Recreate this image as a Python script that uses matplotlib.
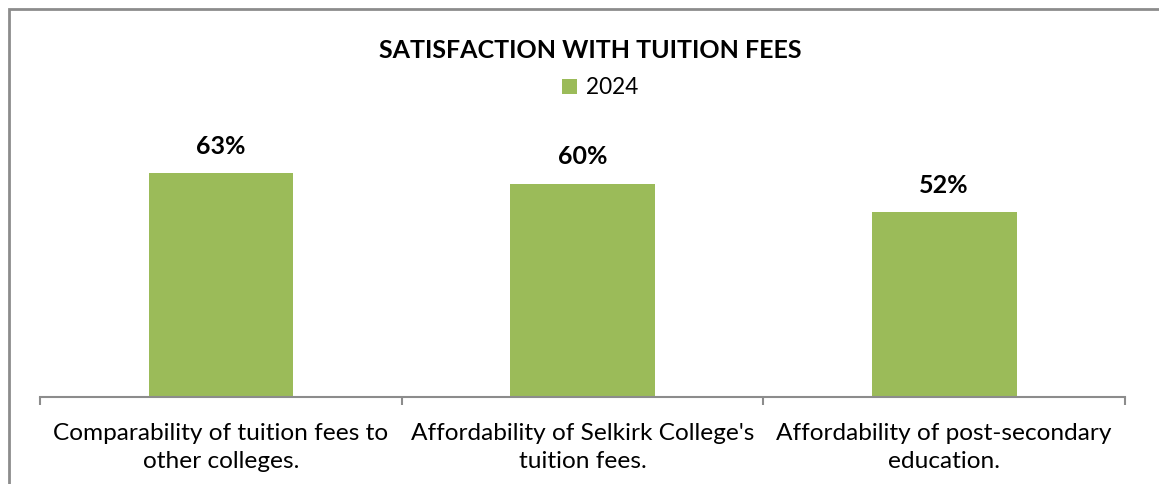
import matplotlib
matplotlib.use("Agg")
import matplotlib.pyplot as plt
from matplotlib.patches import Rectangle

categories = ["Comparability of tuition fees to\nother colleges.",
              "Affordability of Selkirk College's\ntuition fees.",
              "Affordability of post-secondary\neducation."]
values = [63, 60, 52]
series_name = "2024"
title = "SATISFACTION WITH TUITION FEES"

plt.rcParams['font.family'] = ['Lato', 'DejaVu Sans']
W, H = 1159, 484
fig = plt.figure(figsize=(W/100, H/100), dpi=100)
fig.patch.set_facecolor('white')

# border
fig.add_artist(Rectangle((9/W, -0.1), 1.2, (H-9)/H + 0.1, transform=fig.transFigure,
                         fill=False, edgecolor='#8c8c8c', linewidth=2))

ax = fig.add_axes([40/W, 87/H, (1125-40)/W, 284.5/H])
green = '#9BBB59'
x = list(range(len(values)))
bars = ax.bar(x, values, width=0.4, color=green, label=series_name, zorder=2)
ax.set_xlim(-0.5, len(values)-0.5)
ax.set_ylim(0, 80)
for xi, v in zip(x, values):
    ax.annotate(f"{v}%", (xi, v), xytext=(0, 11), textcoords='offset points',
                ha='center', va='bottom', fontsize=18, fontweight='bold')
for s in ['top', 'right', 'left']:
    ax.spines[s].set_visible(False)
ax.spines['bottom'].set_color('#8c8c8c')
ax.spines['bottom'].set_linewidth(1.5)
ax.set_yticks([])
ax.set_xticks([i - 0.5 for i in range(len(values)+1)])
ax.set_xticklabels([])
ax.tick_params(axis='x', length=6, width=1.5, color='#8c8c8c')
ax.set_xticks(x, minor=True)
ax.set_xticklabels(categories, minor=True, fontsize=17.6, linespacing=1.4)
ax.tick_params(axis='x', which='minor', length=0, pad=19)

fig.text(590/W, 1 - 50/H, title, ha='center', va='center', fontsize=18, fontweight='bold')
ax.legend(loc='center', bbox_to_anchor=(600/W, (H-88)/H), bbox_transform=fig.transFigure,
          frameon=False, fontsize=16.3, handlelength=0.65, handleheight=0.65, handletextpad=0.4)

fig.savefig('out.png', dpi=100)
